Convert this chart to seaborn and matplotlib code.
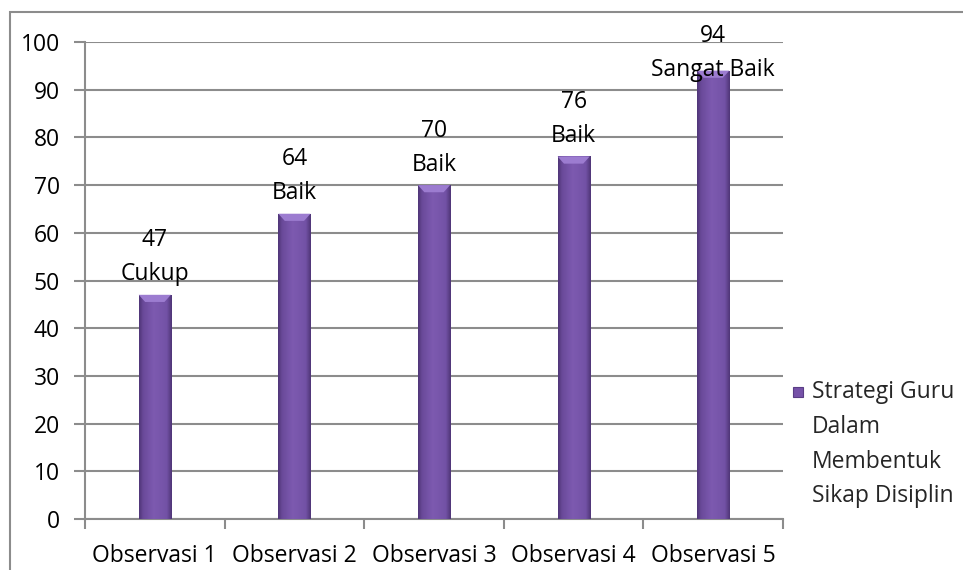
import numpy as np
import pandas as pd
import matplotlib
matplotlib.use("Agg")
import matplotlib.pyplot as plt
import seaborn as sns
from matplotlib.colors import LinearSegmentedColormap
from matplotlib.patches import Rectangle, Polygon

categories = ["Observasi 1", "Observasi 2", "Observasi 3", "Observasi 4", "Observasi 5"]
values = [47, 64, 70, 76, 94]
ratings = ["Cukup", "Baik", "Baik", "Baik", "Sangat Baik"]
series_name = "Strategi Guru\nDalam\nMembentuk\nSikap Disiplin"
yticks = [0, 10, 20, 30, 40, 50, 60, 70, 80, 90, 100]

sns.set_theme(style="white")
plt.rcParams['font.family'] = ['Open Sans', 'DejaVu Sans']
FS = 16.5

df = pd.DataFrame({"cat": categories, "val": values})

W, H = 963, 570
fig = plt.figure(figsize=(W / 100, H / 100), dpi=100)
# outer chart frame
fig.patches.append(Rectangle((10 / W, -0.05), 1.2, (570 - 12) / H + 0.05, transform=fig.transFigure,
                             fill=False, edgecolor="#8c8c8c", linewidth=1.5))

ax = fig.add_axes([85 / W, (H - 519) / H, (783 - 85) / W, (519 - 42) / H])
sns.barplot(data=df, x="cat", y="val", ax=ax, width=0.23, color="#7652a8", saturation=1,
            edgecolor="none", linewidth=0, zorder=3)

ax.set_ylim(0, 100)
ax.set_xlim(-0.5, len(categories) - 0.5)
ax.set_yticks(yticks)
ax.set_xlabel("")
ax.set_ylabel("")
ax.grid(axis="y", color="#8c8c8c", linewidth=1.5, zorder=0)
ax.set_axisbelow(True)
for s in ["top", "right"]:
    ax.spines[s].set_visible(False)
ax.spines["left"].set_color("#8c8c8c")
ax.spines["left"].set_linewidth(1.5)
ax.spines["bottom"].set_color("#8c8c8c")
ax.spines["bottom"].set_linewidth(1.5)

ax.tick_params(axis="y", which="major", left=True, length=8, width=1.5, color="#8c8c8c",
               labelsize=FS, pad=10, labelcolor="black")
ax.set_xticks(range(len(categories)))
ax.set_xticklabels(categories)
ax.tick_params(axis="x", which="major", bottom=False, labelsize=FS, pad=12, labelcolor="black")
ax.set_xticks(np.arange(-0.5, len(categories), 1.0), minor=True)
ax.tick_params(axis="x", which="minor", bottom=True, length=7, width=1.5, color="#8c8c8c")

# gradient fill on bars
cmap = LinearSegmentedColormap.from_list(
    "bar", [(0.0, "#4f3577"), (0.12, "#6a4a9a"), (0.45, "#7d5ab0"), (0.85, "#7352a6"), (1.0, "#4f3577")])
grad = np.linspace(0, 1, 64).reshape(1, -1)
for p in ax.patches:
    x0, y0 = p.get_x(), p.get_y()
    w, h = p.get_width(), p.get_height()
    im = ax.imshow(grad, cmap=cmap, aspect="auto", extent=[x0, x0 + w, y0, y0 + h],
                   zorder=3.5, interpolation="bicubic")
    im.set_clip_path(p)
    bev = 1.5
    ax.add_patch(Polygon([[x0, y0 + h], [x0 + w, y0 + h], [x0 + w * 0.8, y0 + h - bev],
                          [x0 + w * 0.2, y0 + h - bev]], closed=True,
                         facecolor="#9c7cd0", edgecolor="none", zorder=4))
ax.set_xlim(-0.5, len(categories) - 0.5)
ax.set_ylim(0, 100)

# value labels
for i, (v, r) in enumerate(zip(values, ratings)):
    ax.text(i, min(v + 1.8, 91.6), f"{v}\n{r}", ha="center", va="bottom", fontsize=FS,
            linespacing=1.55, zorder=6, color="black")

# legend
fig.patches.append(Rectangle((793 / W, (H - 397) / H), 10 / W, 10 / H, transform=fig.transFigure,
                             facecolor="#7652a8", edgecolor="#5a3d85", linewidth=0.8))
fig.text(812 / W, (H - 380) / H, series_name, ha="left", va="top", fontsize=FS, linespacing=1.6)

fig.savefig("out.png", dpi=100)
